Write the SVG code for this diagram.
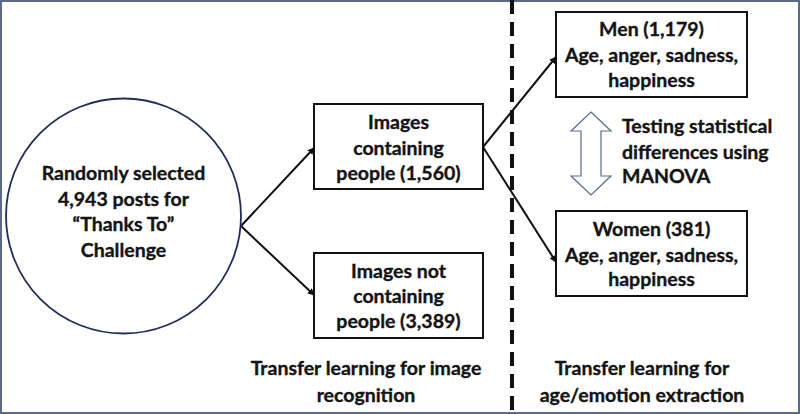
<svg xmlns="http://www.w3.org/2000/svg" width="800" height="414" viewBox="0 0 800 414">
<defs>
<marker id="ah" viewBox="0 0 10 10" refX="9" refY="5" markerWidth="7" markerHeight="7" orient="auto" markerUnits="userSpaceOnUse"><path d="M0,0 L10,5 L0,10 z" fill="#111"/></marker>
<style>
text{font-family:Lato,"Liberation Sans",sans-serif;font-weight:bold;font-size:19.5px;fill:#141414;stroke:#141414;stroke-width:0.35}
.c{text-anchor:middle}
.box{fill:#fff;stroke:#111;stroke-width:2}
.conn{stroke:#111;stroke-width:2;fill:none;marker-end:url(#ah)}
</style>
</defs>
<rect x="0" y="0" width="800" height="414" fill="#fff"/>
<rect x="1" y="1" width="798" height="412" fill="none" stroke="#5a6a86" stroke-width="2"/>
<line x1="512" y1="0" x2="512" y2="414" stroke="#111" stroke-width="4" stroke-dasharray="14,8"/>
<g id="connectors">
<path class="conn" d="M241,226 L314,148"/>
<path class="conn" d="M241,226 L314,295"/>
<path class="conn" d="M483,147 L556,57"/>
<path class="conn" d="M483,147 L556,262"/>
</g>
<g id="source">
<circle cx="123.5" cy="216" r="117.5" fill="#fff" stroke="#1f2d5a" stroke-width="1.8"/>
<text class="c" x="123.5" y="180">Randomly selected</text>
<text class="c" x="123.5" y="206">4,943 posts for</text>
<text class="c" x="123.5" y="231">“Thanks To”</text>
<text class="c" x="123.5" y="257">Challenge</text>
</g>
<g id="with-people">
<rect class="box" x="314" y="104" width="169" height="85"/>
<text class="c" x="398.5" y="129">Images</text>
<text class="c" x="398.5" y="155">containing</text>
<text class="c" x="398.5" y="180">people (1,560)</text>
</g>
<g id="without-people">
<rect class="box" x="314" y="253" width="169" height="85"/>
<text class="c" x="398.5" y="278">Images not</text>
<text class="c" x="398.5" y="303">containing</text>
<text class="c" x="398.5" y="328">people (3,389)</text>
</g>
<g id="men">
<rect class="box" x="556" y="12" width="191" height="85"/>
<text class="c" x="651.5" y="36">Men (1,179)</text>
<text class="c" x="651.5" y="62">Age, anger, sadness,</text>
<text class="c" x="651.5" y="87">happiness</text>
</g>
<g id="women">
<rect class="box" x="556" y="211" width="191" height="85"/>
<text class="c" x="651.5" y="236">Women (381)</text>
<text class="c" x="651.5" y="262">Age, anger, sadness,</text>
<text class="c" x="651.5" y="286">happiness</text>
</g>
<g id="manova">
<path d="M591,112 L611,131 L601,131 L601,176 L611,176 L591,195 L571,176 L581,176 L581,131 L571,131 Z" fill="#fff" stroke="#5a6a8c" stroke-width="1.2"/>
<text x="622" y="133">Testing statistical</text>
<text x="622" y="159">differences using</text>
<text x="622" y="183">MANOVA</text>
</g>
<g id="labels">
<text class="c" x="366" y="375">Transfer learning for image</text>
<text class="c" x="366" y="402">recognition</text>
<text class="c" x="642" y="375">Transfer learning for</text>
<text class="c" x="642" y="402">age/emotion extraction</text>
</g>
</svg>
